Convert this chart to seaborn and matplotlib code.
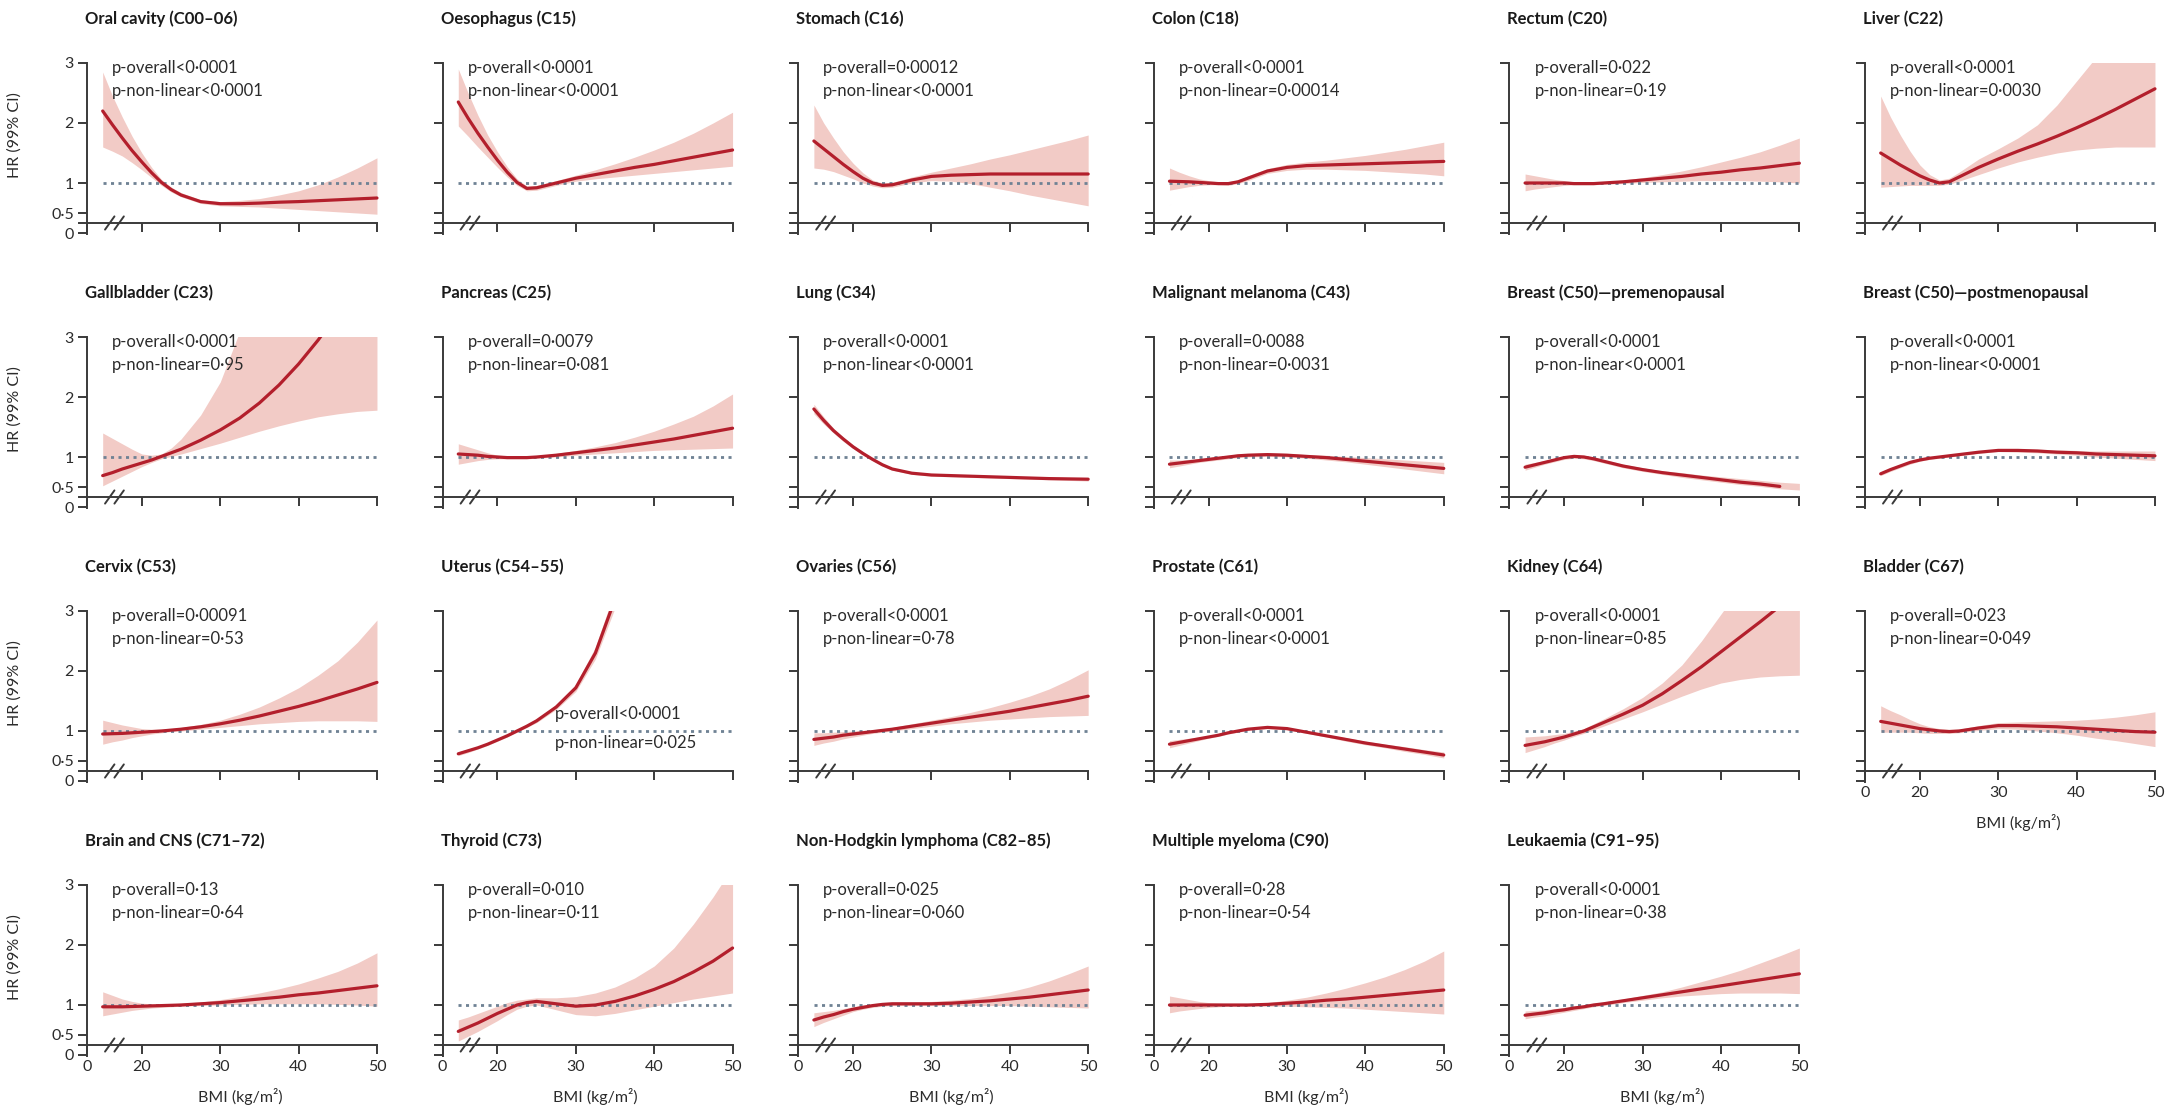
import numpy as np
import matplotlib
matplotlib.use("Agg")
import matplotlib.pyplot as plt
import seaborn as sns

# BMI grid shared by every site (kg/m²)
bmi = [15, 16.25, 17.5, 18.75, 20, 21.25, 22.5, 23.75, 25, 27.5, 30,
       32.5, 35, 37.5, 40, 42.5, 45, 47.5, 50]

# Hazard ratios with 99% CI, one set of arrays per cancer site
oral_hr = [2.2, 1.97, 1.75, 1.54, 1.35, 1.17, 1.01, 0.89, 0.8, 0.69, 0.655, 0.655, 0.665, 0.68, 0.69, 0.705, 0.72, 0.735, 0.75]
oral_lo = [1.6, 1.53, 1.45, 1.34, 1.22, 1.09, 0.96, 0.85, 0.77, 0.66, 0.62, 0.61, 0.6, 0.58, 0.56, 0.54, 0.52, 0.5, 0.48]
oral_hi = [2.85, 2.45, 2.1, 1.78, 1.5, 1.26, 1.06, 0.93, 0.84, 0.72, 0.69, 0.71, 0.74, 0.8, 0.87, 0.97, 1.1, 1.25, 1.42]

oeso_hr = [2.35, 2.08, 1.83, 1.6, 1.38, 1.18, 1.01, 0.91, 0.92, 1.0, 1.08, 1.14, 1.2, 1.26, 1.31, 1.37, 1.43, 1.49, 1.55]
oeso_lo = [1.95, 1.78, 1.6, 1.43, 1.26, 1.1, 0.96, 0.87, 0.88, 0.96, 1.03, 1.07, 1.1, 1.13, 1.16, 1.19, 1.22, 1.25, 1.28]
oeso_hi = [2.9, 2.5, 2.13, 1.8, 1.52, 1.27, 1.07, 0.95, 0.96, 1.04, 1.13, 1.22, 1.32, 1.43, 1.55, 1.68, 1.83, 2.0, 2.18]

stom_hr = [1.7, 1.57, 1.44, 1.31, 1.19, 1.08, 1.0, 0.96, 0.97, 1.05, 1.11, 1.13, 1.14, 1.15, 1.15, 1.15, 1.15, 1.15, 1.15]
stom_lo = [1.25, 1.23, 1.19, 1.13, 1.07, 1.0, 0.95, 0.92, 0.93, 1.0, 1.04, 1.03, 0.99, 0.93, 0.87, 0.8, 0.74, 0.68, 0.62]
stom_hi = [2.3, 2.0, 1.75, 1.52, 1.33, 1.17, 1.05, 1.0, 1.01, 1.1, 1.18, 1.25, 1.32, 1.4, 1.47, 1.55, 1.63, 1.71, 1.8]

colon_hr = [1.03, 1.025, 1.02, 1.01, 1.0, 0.99, 0.99, 1.02, 1.08, 1.2, 1.26, 1.29, 1.3, 1.31, 1.32, 1.33, 1.34, 1.35, 1.36]
colon_lo = [0.88, 0.91, 0.94, 0.96, 0.97, 0.97, 0.96, 0.99, 1.04, 1.16, 1.21, 1.23, 1.23, 1.22, 1.21, 1.19, 1.17, 1.15, 1.12]
colon_hi = [1.25, 1.18, 1.12, 1.07, 1.04, 1.02, 1.02, 1.05, 1.12, 1.24, 1.31, 1.35, 1.38, 1.42, 1.46, 1.51, 1.56, 1.62, 1.68]

rect_hr = [1.0, 1.0, 1.0, 1.0, 1.0, 0.99, 0.99, 0.99, 1.0, 1.02, 1.05, 1.08, 1.11, 1.15, 1.18, 1.22, 1.25, 1.29, 1.33]
rect_lo = [0.87, 0.9, 0.92, 0.94, 0.96, 0.97, 0.97, 0.97, 0.98, 0.99, 1.01, 1.02, 1.03, 1.04, 1.04, 1.04, 1.03, 1.02, 1.0]
rect_hi = [1.15, 1.12, 1.09, 1.06, 1.04, 1.02, 1.01, 1.01, 1.02, 1.05, 1.09, 1.14, 1.2, 1.27, 1.35, 1.43, 1.52, 1.63, 1.75]

liver_hr = [1.5, 1.4, 1.3, 1.21, 1.12, 1.05, 1.0, 1.02, 1.1, 1.26, 1.4, 1.53, 1.65, 1.78, 1.92, 2.07, 2.23, 2.4, 2.57]
liver_lo = [0.93, 0.94, 0.95, 0.96, 0.96, 0.96, 0.96, 0.98, 1.03, 1.14, 1.25, 1.35, 1.43, 1.5, 1.55, 1.58, 1.6, 1.6, 1.6]
liver_hi = [2.45, 2.1, 1.8, 1.53, 1.3, 1.14, 1.05, 1.08, 1.18, 1.4, 1.57, 1.75, 1.97, 2.3, 2.7, 3.1, 3.4, 3.6, 3.8]

gall_hr = [0.69, 0.74, 0.8, 0.85, 0.9, 0.95, 1.01, 1.07, 1.13, 1.28, 1.45, 1.65, 1.9, 2.2, 2.55, 2.95, 3.4, 3.9, 4.5]
gall_lo = [0.52, 0.6, 0.68, 0.76, 0.84, 0.91, 0.97, 1.01, 1.05, 1.14, 1.23, 1.33, 1.43, 1.52, 1.6, 1.67, 1.72, 1.76, 1.78]
gall_hi = [1.4, 1.31, 1.22, 1.13, 1.05, 1.03, 1.05, 1.15, 1.3, 1.7, 2.25, 3.1, 3.9, 4.6, 5.3, 6.0, 6.7, 7.4, 8.0]

panc_hr = [1.05, 1.04, 1.03, 1.01, 1.0, 0.99, 0.99, 0.99, 1.0, 1.03, 1.07, 1.11, 1.15, 1.2, 1.25, 1.3, 1.36, 1.42, 1.48]
panc_lo = [0.88, 0.91, 0.94, 0.96, 0.97, 0.97, 0.97, 0.97, 0.98, 1.0, 1.03, 1.05, 1.07, 1.09, 1.11, 1.12, 1.13, 1.14, 1.15]
panc_hi = [1.22, 1.17, 1.12, 1.07, 1.03, 1.02, 1.01, 1.01, 1.02, 1.06, 1.11, 1.17, 1.24, 1.33, 1.43, 1.55, 1.68, 1.85, 2.05]

lung_hr = [1.8, 1.61, 1.44, 1.3, 1.17, 1.06, 0.96, 0.87, 0.8, 0.73, 0.7, 0.69, 0.68, 0.67, 0.66, 0.65, 0.64, 0.635, 0.63]
lung_lo = [1.72, 1.55, 1.4, 1.26, 1.14, 1.03, 0.94, 0.85, 0.78, 0.71, 0.68, 0.67, 0.66, 0.65, 0.64, 0.63, 0.62, 0.61, 0.6]
lung_hi = [1.88, 1.67, 1.48, 1.33, 1.2, 1.09, 0.98, 0.89, 0.82, 0.75, 0.72, 0.71, 0.7, 0.69, 0.68, 0.67, 0.67, 0.66, 0.66]

mel_hr = [0.88, 0.9, 0.92, 0.94, 0.96, 0.98, 1.0, 1.02, 1.03, 1.04, 1.03, 1.01, 0.99, 0.96, 0.93, 0.9, 0.87, 0.84, 0.81]
mel_lo = [0.82, 0.85, 0.88, 0.91, 0.93, 0.95, 0.97, 0.99, 1.0, 1.01, 1.0, 0.98, 0.95, 0.92, 0.88, 0.84, 0.8, 0.76, 0.72]
mel_hi = [0.95, 0.95, 0.96, 0.97, 0.99, 1.01, 1.03, 1.05, 1.06, 1.07, 1.06, 1.04, 1.03, 1.01, 0.99, 0.97, 0.95, 0.93, 0.91]

bpre_hr = [0.83, 0.87, 0.91, 0.95, 0.99, 1.01, 1.0, 0.97, 0.93, 0.85, 0.79, 0.74, 0.7, 0.66, 0.62, 0.58, 0.55, 0.51, np.nan]
bpre_lo = [0.78, 0.83, 0.88, 0.92, 0.96, 0.98, 0.97, 0.94, 0.9, 0.82, 0.76, 0.71, 0.66, 0.62, 0.58, 0.54, 0.51, 0.47, 0.45]
bpre_hi = [0.88, 0.91, 0.94, 0.98, 1.02, 1.04, 1.03, 1.0, 0.96, 0.88, 0.82, 0.77, 0.74, 0.7, 0.67, 0.64, 0.61, 0.58, 0.56]

bpost_hr = [0.72, 0.79, 0.85, 0.91, 0.95, 0.98, 1.0, 1.02, 1.04, 1.08, 1.11, 1.11, 1.1, 1.08, 1.07, 1.05, 1.04, 1.03, 1.02]
bpost_lo = [0.69, 0.76, 0.82, 0.88, 0.93, 0.96, 0.98, 1.0, 1.02, 1.06, 1.09, 1.08, 1.07, 1.05, 1.03, 1.0, 0.98, 0.96, 0.94]
bpost_hi = [0.75, 0.82, 0.88, 0.93, 0.97, 1.0, 1.02, 1.04, 1.06, 1.1, 1.13, 1.14, 1.13, 1.12, 1.11, 1.1, 1.1, 1.1, 1.1]

cerv_hr = [0.95, 0.955, 0.96, 0.97, 0.98, 0.99, 1.0, 1.015, 1.03, 1.07, 1.12, 1.18, 1.25, 1.33, 1.41, 1.5, 1.6, 1.7, 1.81]
cerv_lo = [0.78, 0.82, 0.85, 0.89, 0.92, 0.95, 0.97, 0.99, 1.0, 1.03, 1.06, 1.09, 1.12, 1.14, 1.16, 1.17, 1.17, 1.17, 1.16]
cerv_hi = [1.18, 1.14, 1.1, 1.07, 1.04, 1.03, 1.03, 1.04, 1.06, 1.11, 1.18, 1.28, 1.4, 1.55, 1.72, 1.93, 2.17, 2.48, 2.85]

uter_hr = [0.62, 0.67, 0.72, 0.78, 0.85, 0.92, 1.0, 1.08, 1.17, 1.4, 1.72, 2.3, 3.2] + [np.nan] * 6
uter_lo = [0.59, 0.64, 0.7, 0.76, 0.83, 0.9, 0.98, 1.06, 1.14, 1.36, 1.66, 2.2, 3.05] + [np.nan] * 6
uter_hi = [0.65, 0.7, 0.74, 0.8, 0.87, 0.94, 1.02, 1.1, 1.2, 1.44, 1.78, 2.4, 3.35] + [np.nan] * 6

ovar_hr = [0.86, 0.88, 0.9, 0.93, 0.95, 0.97, 0.99, 1.01, 1.03, 1.08, 1.13, 1.18, 1.23, 1.28, 1.33, 1.39, 1.45, 1.51, 1.58]
ovar_lo = [0.76, 0.8, 0.83, 0.87, 0.9, 0.93, 0.96, 0.98, 1.0, 1.04, 1.08, 1.12, 1.15, 1.18, 1.2, 1.22, 1.24, 1.25, 1.26]
ovar_hi = [0.97, 0.97, 0.98, 0.99, 1.0, 1.01, 1.02, 1.04, 1.06, 1.12, 1.18, 1.24, 1.31, 1.39, 1.48, 1.58, 1.7, 1.85, 2.02]

pros_hr = [0.78, 0.81, 0.84, 0.87, 0.9, 0.93, 0.97, 1.0, 1.03, 1.06, 1.04, 0.98, 0.92, 0.86, 0.8, 0.75, 0.7, 0.65, 0.6]
pros_lo = [0.72, 0.76, 0.8, 0.84, 0.88, 0.91, 0.95, 0.98, 1.01, 1.04, 1.02, 0.96, 0.9, 0.83, 0.77, 0.72, 0.66, 0.61, 0.55]
pros_hi = [0.84, 0.86, 0.88, 0.9, 0.92, 0.95, 0.99, 1.02, 1.05, 1.08, 1.06, 1.0, 0.94, 0.89, 0.83, 0.78, 0.74, 0.69, 0.65]

kid_hr = [0.76, 0.79, 0.82, 0.86, 0.9, 0.95, 1.0, 1.07, 1.14, 1.28, 1.43, 1.62, 1.84, 2.07, 2.32, 2.57, 2.82, 3.08, 3.4]
kid_lo = [0.64, 0.69, 0.74, 0.8, 0.85, 0.91, 0.96, 1.02, 1.08, 1.2, 1.32, 1.45, 1.58, 1.7, 1.8, 1.86, 1.9, 1.92, 1.93]
kid_hi = [0.9, 0.91, 0.92, 0.94, 0.96, 1.0, 1.04, 1.12, 1.2, 1.37, 1.56, 1.8, 2.1, 2.5, 2.95, 3.4, 3.8, 4.2, 4.6]

blad_hr = [1.16, 1.13, 1.1, 1.07, 1.04, 1.02, 1.0, 0.99, 1.0, 1.05, 1.09, 1.09, 1.08, 1.07, 1.05, 1.03, 1.01, 0.99, 0.98]
blad_lo = [0.98, 0.98, 0.98, 0.98, 0.97, 0.96, 0.96, 0.96, 0.97, 1.01, 1.04, 1.03, 1.0, 0.97, 0.93, 0.88, 0.84, 0.79, 0.74]
blad_hi = [1.42, 1.34, 1.27, 1.19, 1.12, 1.07, 1.04, 1.03, 1.03, 1.09, 1.14, 1.15, 1.16, 1.17, 1.18, 1.2, 1.23, 1.27, 1.32]

brain_hr = [0.97, 0.97, 0.97, 0.975, 0.98, 0.985, 0.99, 0.995, 1.0, 1.02, 1.04, 1.07, 1.1, 1.13, 1.17, 1.2, 1.24, 1.28, 1.32]
brain_lo = [0.82, 0.85, 0.88, 0.91, 0.93, 0.95, 0.96, 0.97, 0.98, 0.99, 1.0, 1.01, 1.02, 1.02, 1.02, 1.02, 1.01, 1.0, 0.98]
brain_hi = [1.22, 1.16, 1.1, 1.06, 1.03, 1.02, 1.02, 1.02, 1.03, 1.05, 1.09, 1.14, 1.2, 1.27, 1.35, 1.45, 1.56, 1.7, 1.87]

thyr_hr = [0.56, 0.63, 0.7, 0.78, 0.86, 0.93, 1.0, 1.04, 1.06, 1.02, 0.98, 1.0, 1.06, 1.15, 1.26, 1.39, 1.55, 1.73, 1.95]
thyr_lo = [0.4, 0.48, 0.56, 0.65, 0.74, 0.84, 0.93, 0.98, 1.0, 0.92, 0.84, 0.82, 0.86, 0.92, 0.98, 1.04, 1.1, 1.15, 1.2]
thyr_hi = [0.75, 0.8, 0.86, 0.92, 0.98, 1.04, 1.08, 1.1, 1.12, 1.12, 1.14, 1.2, 1.3, 1.45, 1.65, 1.95, 2.35, 2.8, 3.3]

nhl_hr = [0.75, 0.8, 0.84, 0.89, 0.93, 0.96, 0.99, 1.01, 1.02, 1.02, 1.02, 1.03, 1.05, 1.07, 1.1, 1.13, 1.17, 1.21, 1.25]
nhl_lo = [0.64, 0.71, 0.77, 0.83, 0.89, 0.93, 0.96, 0.98, 0.99, 0.99, 0.99, 0.99, 0.99, 0.99, 0.99, 0.98, 0.97, 0.96, 0.95]
nhl_hi = [0.87, 0.89, 0.91, 0.94, 0.97, 1.0, 1.02, 1.04, 1.05, 1.05, 1.06, 1.08, 1.11, 1.16, 1.22, 1.3, 1.4, 1.52, 1.65]

mm_hr = [1.0, 1.0, 1.0, 1.0, 1.0, 1.0, 1.0, 1.0, 1.0, 1.01, 1.03, 1.05, 1.08, 1.1, 1.13, 1.16, 1.19, 1.22, 1.25]
mm_lo = [0.87, 0.9, 0.92, 0.94, 0.96, 0.97, 0.98, 0.98, 0.98, 0.98, 0.98, 0.97, 0.96, 0.95, 0.93, 0.91, 0.89, 0.87, 0.85]
mm_hi = [1.15, 1.12, 1.09, 1.06, 1.04, 1.03, 1.02, 1.02, 1.02, 1.04, 1.08, 1.13, 1.2, 1.28, 1.37, 1.47, 1.59, 1.73, 1.9]

leuk_hr = [0.83, 0.85, 0.87, 0.9, 0.92, 0.95, 0.97, 1.0, 1.02, 1.07, 1.12, 1.17, 1.22, 1.27, 1.32, 1.37, 1.42, 1.47, 1.52]
leuk_lo = [0.77, 0.8, 0.82, 0.85, 0.88, 0.91, 0.94, 0.97, 0.99, 1.04, 1.08, 1.12, 1.15, 1.17, 1.19, 1.2, 1.2, 1.2, 1.19]
leuk_hi = [0.9, 0.91, 0.92, 0.94, 0.96, 0.98, 1.0, 1.03, 1.05, 1.1, 1.16, 1.22, 1.3, 1.39, 1.48, 1.58, 1.7, 1.82, 1.95]

titles = [
    "Oral cavity (C00–06)", "Oesophagus (C15)", "Stomach (C16)", "Colon (C18)",
    "Rectum (C20)", "Liver (C22)", "Gallbladder (C23)", "Pancreas (C25)", "Lung (C34)",
    "Malignant melanoma (C43)", "Breast (C50)—premenopausal", "Breast (C50)—postmenopausal",
    "Cervix (C53)", "Uterus (C54–55)", "Ovaries (C56)", "Prostate (C61)", "Kidney (C64)",
    "Bladder (C67)", "Brain and CNS (C71–72)", "Thyroid (C73)",
    "Non-Hodgkin lymphoma (C82–85)", "Multiple myeloma (C90)", "Leukaemia (C91–95)",
]
p_overall = [
    "<0·0001", "<0·0001", "=0·00012", "<0·0001", "=0·022", "<0·0001",
    "<0·0001", "=0·0079", "<0·0001", "=0·0088", "<0·0001", "<0·0001",
    "=0·00091", "<0·0001", "<0·0001", "<0·0001", "<0·0001", "=0·023",
    "=0·13", "=0·010", "=0·025", "=0·28", "<0·0001",
]
p_nonlinear = [
    "<0·0001", "<0·0001", "<0·0001", "=0·00014", "=0·19", "=0·0030",
    "=0·95", "=0·081", "<0·0001", "=0·0031", "<0·0001", "<0·0001",
    "=0·53", "=0·025", "=0·78", "<0·0001", "=0·85", "=0·049",
    "=0·64", "=0·11", "=0·060", "=0·54", "=0·38",
]
curves = [
    (oral_hr, oral_lo, oral_hi), (oeso_hr, oeso_lo, oeso_hi), (stom_hr, stom_lo, stom_hi),
    (colon_hr, colon_lo, colon_hi), (rect_hr, rect_lo, rect_hi), (liver_hr, liver_lo, liver_hi),
    (gall_hr, gall_lo, gall_hi), (panc_hr, panc_lo, panc_hi), (lung_hr, lung_lo, lung_hi),
    (mel_hr, mel_lo, mel_hi), (bpre_hr, bpre_lo, bpre_hi), (bpost_hr, bpost_lo, bpost_hi),
    (cerv_hr, cerv_lo, cerv_hi), (uter_hr, uter_lo, uter_hi), (ovar_hr, ovar_lo, ovar_hi),
    (pros_hr, pros_lo, pros_hi), (kid_hr, kid_lo, kid_hi), (blad_hr, blad_lo, blad_hi),
    (brain_hr, brain_lo, brain_hi), (thyr_hr, thyr_lo, thyr_hi), (nhl_hr, nhl_lo, nhl_hi),
    (mm_hr, mm_lo, mm_hi), (leuk_hr, leuk_lo, leuk_hi),
]

x_ticks = [13, 20, 30, 40, 50]
x_ticklabels = ["0", "20", "30", "40", "50"]
y_ticks = [1 / 6, 0.5, 1, 2, 3]
y_ticklabels = ["0", "0·5", "1", "2", "3"]

sns.set_style("ticks")
plt.rcParams["font.family"] = ["Lato", "DejaVu Sans"]
plt.rcParams["axes.linewidth"] = 1.4

W, H = 2172, 1109
fig = plt.figure(figsize=(W / 100, H / 100), dpi=100)

AXIS_COL = "#3a3a3a"
LINE_COL = "#b31f2c"
BAND_COL = "#f2cbc6"
REF_COL = "#6f8294"
TEXT_COL = "#2b2b2b"

PX_X, PX_Y = 7.83, 60.0          # pixels per BMI unit / per HR unit
X0, X1, Y0, Y1 = 12.0, 50.0, 0.15, 3.0
COL_STEP, ROW_STEP = 355.6, 274.0
n = len(titles)
bottom_row = {}
for i in range(n):
    r, c = divmod(i, 6)
    bottom_row[c] = max(bottom_row.get(c, 0), r)

for i in range(n):
    r, c = divmod(i, 6)
    hr, lo, hi = curves[i]
    left_px = 87 - PX_X * (13 - X0) + COL_STEP * c
    top_px = 63 + ROW_STEP * r
    w_px = PX_X * (X1 - X0)
    h_px = PX_Y * (Y1 - Y0)
    ax = fig.add_axes([left_px / W, 1 - (top_px + h_px) / H, (w_px + 3) / W, h_px / H])

    ax.fill_between(bmi, lo, hi, color=BAND_COL, lw=0, zorder=1)
    ax.hlines(1, bmi[0], bmi[-1], colors=REF_COL, lw=2.0,
              linestyles=(0, (1.1, 1.6)), zorder=2)
    sns.lineplot(x=bmi, y=hr, ax=ax, color=LINE_COL, linewidth=2.3, zorder=3)

    ax.set_xlim(X0, X1 + 0.35)
    ax.set_ylim(Y0, Y1)
    for s in ("top", "right"):
        ax.spines[s].set_visible(False)
    ax.spines["left"].set_position(("data", 13))
    ax.spines["bottom"].set_position(("data", 1 / 3))
    ax.spines["bottom"].set_bounds(X0, X1)
    for s in ("left", "bottom"):
        ax.spines[s].set_color(AXIS_COL)

    # axis break marks on the BMI axis
    for bx in (15.9, 17.1):
        ax.plot([bx - 0.6, bx + 0.6], [1 / 3 - 0.11, 1 / 3 + 0.11],
                color=AXIS_COL, lw=1.4, clip_on=False, zorder=4)

    ax.set_xticks(x_ticks)
    ax.set_yticks(y_ticks)
    show_x = r == bottom_row[c]
    ax.set_xticklabels(x_ticklabels if show_x else [""] * len(x_ticks))
    ax.set_yticklabels(y_ticklabels if c == 0 else [""] * len(y_ticks))
    ax.tick_params(axis="both", direction="out", length=6.5, width=1.4,
                   color=AXIS_COL, labelcolor=TEXT_COL, labelsize=11.5, pad=3)
    ax.tick_params(axis="x", pad=4)
    ax.set_xlabel("")
    ax.set_ylabel("")
    if show_x:
        ax.set_xlabel("BMI (kg/m²)", fontsize=11.5, color=TEXT_COL)
        ax.xaxis.label.set_va("center")
        ax.xaxis.set_label_coords((32.5 - X0) / (X1 + 0.35 - X0), -0.235)
    if c == 0:
        ax.set_ylabel("HR (99% CI)", fontsize=11.5, color=TEXT_COL)
        ax.yaxis.set_label_coords(-0.19, 0.58)

    ax.text(12.75, 1 + 44 / h_px, titles[i], transform=ax.get_xaxis_transform(),
            ha="left", va="center", fontsize=12, fontweight="bold", color="#1a1a1a")

    if i == 13:
        tx, ty1, ty2 = 27.3, 1.28, 0.8
    else:
        tx, ty1, ty2 = 16.2, 2.92, 2.54
    ax.text(tx, ty1, "p-overall" + p_overall[i], fontsize=12, color=TEXT_COL,
            ha="left", va="center", zorder=5)
    ax.text(tx, ty2, "p-non-linear" + p_nonlinear[i], fontsize=12, color=TEXT_COL,
            ha="left", va="center", zorder=5)

fig.savefig("out.png", dpi=100, facecolor="white")
